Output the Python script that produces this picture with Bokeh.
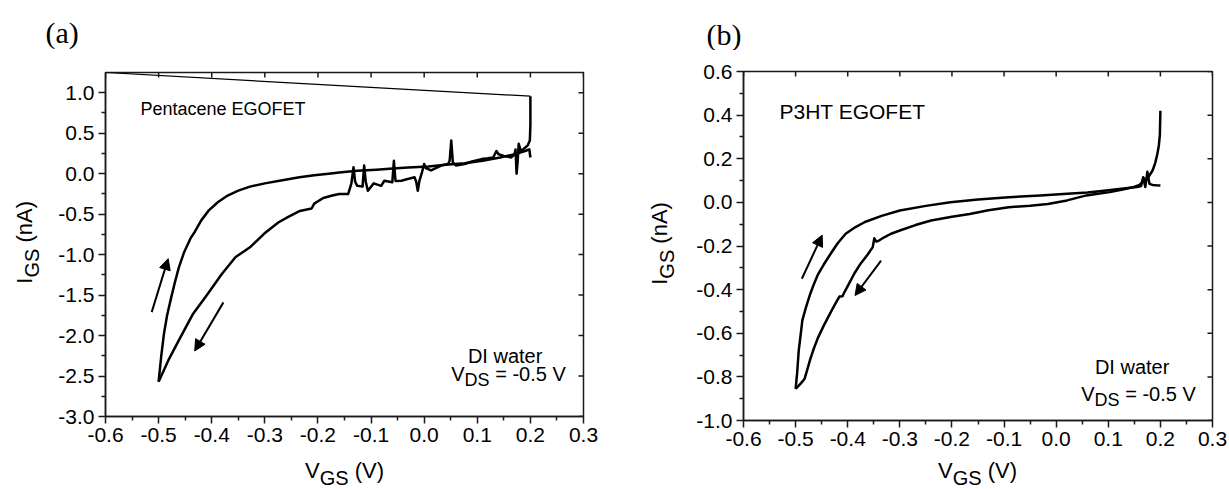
import math
from bokeh.plotting import figure
from bokeh.models import FixedTicker, PrintfTickFormatter, Range1d, Label, Arrow, NormalHead
from bokeh.layouts import row, column
from bokeh.embed import file_html
from bokeh.resources import INLINE

# ---------------- data ----------------
X_TICKS = [-0.6, -0.5, -0.4, -0.3, -0.2, -0.1, 0.0, 0.1, 0.2, 0.3]
X_MINOR = [-0.55, -0.45, -0.35, -0.25, -0.15, -0.05, 0.05, 0.15, 0.25]
A_Y_TICKS = [-3.0, -2.5, -2.0, -1.5, -1.0, -0.5, 0.0, 0.5, 1.0]
A_Y_MINOR = [-2.75, -2.25, -1.75, -1.25, -0.75, -0.25, 0.25, 0.75]
B_Y_TICKS = [-1.0, -0.8, -0.6, -0.4, -0.2, 0.0, 0.2, 0.4, 0.6]
B_Y_MINOR = [-0.9, -0.7, -0.5, -0.3, -0.1, 0.1, 0.3, 0.5]

# (a) Pentacene EGOFET: sweep 0.2 V -> -0.5 V (noisy branch)
a_fwd_vgs = [0.200, 0.200, 0.199, 0.195, 0.190, 0.186, 0.182, 0.178, 0.176, 0.174, 0.172, 0.170,
             0.164, 0.150, 0.140, 0.136, 0.130, 0.120, 0.108, 0.090, 0.076, 0.060, 0.054, 0.051,
             0.048, 0.045, 0.032, 0.013, 0.003, 0.000, -0.004, -0.009, -0.012, -0.015, -0.018,
             -0.031, -0.043, -0.054, -0.057, -0.060, -0.075, -0.081, -0.095, -0.106, -0.110,
             -0.113, -0.116, -0.126, -0.130, -0.133, -0.137, -0.143, -0.160, -0.173, -0.190,
             -0.207, -0.212, -0.234, -0.255, -0.274, -0.301, -0.328, -0.355, -0.381, -0.408,
             -0.435, -0.462, -0.482, -0.500]
a_fwd_igs = [0.957, 0.60, 0.41, 0.35, 0.32, 0.30, 0.28, 0.37, 0.15, 0.00, 0.30, 0.24,
             0.20, 0.22, 0.24, 0.28, 0.20, 0.19, 0.18, 0.15, 0.12, 0.10, 0.14, 0.41,
             0.16, 0.12, 0.10, 0.04, 0.07, 0.12, 0.02, -0.09, -0.21, -0.10, -0.045,
             -0.066, -0.087, -0.09, 0.16, -0.107, -0.087, -0.15, -0.12, -0.21, -0.10,
             0.10, -0.16, -0.15, -0.10, 0.08, -0.12, -0.25, -0.25, -0.27, -0.30,
             -0.37, -0.43, -0.46, -0.53, -0.60, -0.74, -0.91, -1.03, -1.24, -1.49,
             -1.73, -2.06, -2.31, -2.57]
# (a) return sweep -0.5 V -> 0.2 V (smooth branch)
a_ret_vgs = [-0.500, -0.495, -0.490, -0.484, -0.477, -0.470, -0.462, -0.452, -0.440, -0.432,
             -0.420, -0.405, -0.388, -0.370, -0.350, -0.328, -0.300, -0.267, -0.235, -0.207,
             -0.180, -0.160, -0.126, -0.090, -0.059, -0.030, 0.008, 0.040, 0.076, 0.110,
             0.143, 0.170, 0.190, 0.198, 0.200]
a_ret_igs = [-2.57, -2.25, -1.98, -1.75, -1.55, -1.36, -1.16, -0.97, -0.80, -0.72,
             -0.58, -0.45, -0.35, -0.27, -0.21, -0.16, -0.12, -0.08, -0.045, -0.02,
             0.00, 0.015, 0.035, 0.05, 0.065, 0.075, 0.09, 0.11, 0.13, 0.16,
             0.20, 0.24, 0.28, 0.30, 0.20]
# (a) thin connecting line
a_art_vgs = [-0.6, 0.2]
a_art_igs = [1.25, 0.957]

# (b) P3HT EGOFET: sweep 0.2 V -> -0.5 V
b_fwd_vgs = [0.200, 0.199, 0.197, 0.194, 0.190, 0.185, 0.178, 0.172, 0.168, 0.164, 0.160,
             0.148, 0.130, 0.103, 0.080, 0.058, 0.021, -0.016, -0.050, -0.091, -0.130,
             -0.166, -0.200, -0.240, -0.270, -0.300, -0.318, -0.330, -0.340, -0.345, -0.349,
             -0.352, -0.362, -0.375, -0.387, -0.397, -0.406, -0.410, -0.416, -0.425, -0.434,
             -0.446, -0.457, -0.465, -0.472, -0.478, -0.483, -0.490, -0.500]
b_fwd_igs = [0.42, 0.31, 0.26, 0.22, 0.18, 0.146, 0.12, 0.10, 0.11, 0.09, 0.08,
             0.07, 0.06, 0.047, 0.04, 0.032, 0.009, -0.007, -0.015, -0.022, -0.036,
             -0.053, -0.066, -0.083, -0.104, -0.129, -0.145, -0.16, -0.175, -0.18, -0.165,
             -0.205, -0.24, -0.28, -0.325, -0.37, -0.41, -0.43, -0.432, -0.47, -0.51,
             -0.565, -0.62, -0.67, -0.72, -0.77, -0.81, -0.83, -0.855]
# (b) return sweep -0.5 V -> 0.2 V
b_ret_vgs = [-0.500, -0.497, -0.494, -0.490, -0.487, -0.480, -0.472, -0.465, -0.457, -0.446,
             -0.434, -0.420, -0.404, -0.385, -0.367, -0.335, -0.300, -0.250, -0.203, -0.150,
             -0.091, -0.030, 0.021, 0.060, 0.096, 0.133, 0.155, 0.163, 0.167, 0.171,
             0.175, 0.179, 0.185, 0.192, 0.200]
b_ret_igs = [-0.855, -0.78, -0.68, -0.60, -0.54, -0.48, -0.42, -0.375, -0.33, -0.285,
             -0.24, -0.19, -0.144, -0.113, -0.09, -0.062, -0.037, -0.016, 0.001, 0.013,
             0.024, 0.032, 0.039, 0.045, 0.054, 0.065, 0.07, 0.075, 0.115, 0.07,
             0.14, 0.085, 0.08, 0.078, 0.077]

# sweep-direction arrows (start -> end, data coordinates)
a_arrows = [((-0.513, -1.71), (-0.482, -1.05)), ((-0.378, -1.59), (-0.432, -2.19))]
b_arrows = [((-0.488, -0.35), (-0.449, -0.15)), ((-0.336, -0.267), (-0.386, -0.427))]

# ---------------- helpers ----------------
SANS = "Liberation Sans"
SERIF = "Liberation Serif"
INK = "#1a1a1a"
BASE_FIX = 0.35   # rendered text sits this many em below the requested baseline
AW = {'V': 667, 'G': 778, 'S': 667, ' ': 278, '(': 333, ')': 333, 'I': 278, 'n': 556,
      'A': 667, 'D': 722, '=': 584, '-': 333, '0': 556, '.': 278, '5': 556}


def tw(s, size):
    return sum(AW.get(c, 556) for c in s) / 1000.0 * size


def rich(p, x, y, pieces, align="center", angle=0.0):
    total = sum(tw(t, s) for t, s, _ in pieces)
    pos = {"left": 0.0, "center": -total / 2.0, "right": -total}[align]
    for t, s, dy in pieces:
        lead = len(t) - len(t.lstrip(" "))
        pos += lead * 0.278 * s
        t = t.lstrip(" ")
        if angle == 0:
            xo, yo = pos, -dy + BASE_FIX * s
        else:
            xo, yo = dy - BASE_FIX * s, pos
        p.add_layout(Label(x=x, y=y, x_offset=xo, y_offset=yo, text=t, angle=angle,
                           text_font=SANS, text_font_size=f"{s}px", text_align="left",
                           text_baseline="alphabetic", text_color="black"))
        pos += tw(t, s)


def plain(p, x, y, text, size, font=SANS, align="left"):
    p.add_layout(Label(x=x, y=y, y_offset=BASE_FIX * size, text=text, text_font=font,
                       text_font_size=f"{size}px", text_align=align,
                       text_baseline="alphabetic", text_color="black"))


def strip(w, h):
    s = figure(width=w, height=h, x_range=Range1d(0, w), y_range=Range1d(0, h), title=None,
               x_axis_type=None, y_axis_type=None, output_backend="svg", toolbar_location=None,
               min_border=0, min_border_left=0, min_border_right=0, min_border_top=0,
               min_border_bottom=0)
    s.outline_line_color = None
    s.xgrid.visible = False
    s.ygrid.visible = False
    return s


def style_axis(ax, ticks, minor, size=21):
    ax.ticker = FixedTicker(ticks=ticks, minor_ticks=minor)
    ax.formatter = PrintfTickFormatter(format="%.1f")
    ax.axis_line_color = INK
    ax.axis_line_width = 1.5
    ax.major_tick_line_color = INK
    ax.major_tick_line_width = 1.5
    ax.minor_tick_line_color = INK
    ax.minor_tick_line_width = 1.5
    ax.major_tick_in = 0
    ax.major_tick_out = 7
    ax.minor_tick_in = 0
    ax.minor_tick_out = 4
    ax.major_label_text_font = SANS
    ax.major_label_text_font_size = f"{size}px"
    ax.major_label_text_color = "black"
    ax.major_label_standoff = 4


def make_fig(w, h, yr, bl, br, bt, bb, yt, ym):
    p = figure(width=w, height=h, x_range=Range1d(-0.6, 0.3), y_range=Range1d(*yr), title=None,
               output_backend="svg", toolbar_location=None,
               min_border_left=bl, min_border_right=br, min_border_top=bt, min_border_bottom=bb)
    p.outline_line_color = INK
    p.outline_line_width = 1.5
    p.outline_line_alpha = 1.0
    p.xgrid.visible = False
    p.ygrid.visible = False
    p.background_fill_color = "white"
    p.border_fill_color = "white"
    style_axis(p.xaxis[0], X_TICKS, X_MINOR)
    style_axis(p.yaxis[0], yt, ym)
    # inward ticks on the top and right frame edges (half of each dash is clipped by the frame)
    p.scatter(X_TICKS, [yr[1]] * len(X_TICKS), marker="dash", size=10, angle=math.pi / 2,
              line_color=INK, line_width=1.5)
    p.scatter([0.3] * len(yt), yt, marker="dash", size=10, line_color=INK, line_width=1.5)
    return p


def add_arrows(p, arrows):
    for (x0, y0), (x1, y1) in arrows:
        p.add_layout(Arrow(end=NormalHead(size=11, fill_color="black", line_color="black", line_width=1),
                           x_start=x0, y_start=y0, x_end=x1, y_end=y1,
                           line_color="black", line_width=2))


def a_xy(px, py):
    return -0.6 + (px - 105) / (478 / 0.9), 1.25 - (py - 72) / (344 / 4.25)


def b_xy(px, py):
    return -0.6 + (px - 743) / (469 / 0.9), 0.6 - (py - 71) / (349 / 1.6)


# ---------------- panel (a) ----------------
# page geometry: frame x 105..583, y 72..416
pa = make_fig(563, 405, (-3.0, 1.25), 60, 25, 22, 39, A_Y_TICKS, A_Y_MINOR)
pa.line(a_art_vgs, a_art_igs, line_color="black", line_width=1.2)
pa.line(a_fwd_vgs, a_fwd_igs, line_color="black", line_width=2.5, line_join="round")
pa.line(a_ret_vgs, a_ret_igs, line_color="black", line_width=2.5, line_join="round")
add_arrows(pa, a_arrows)

x, y = a_xy(140, 115)
plain(pa, x, y, "Pentacene EGOFET", 18)
x, y = a_xy(508, 362)
rich(pa, x, y, [("DI water", 20, 0)])
x, y = a_xy(508, 380)
rich(pa, x, y, [("V", 20, 0), ("DS", 18, 6), (" = -0.5 V", 20, 0)])

ta = strip(608, 50)          # page x 0..608, y 0..50
plain(ta, 45, 50 - 42, "(a)", 30, font=SERIF)
la = strip(45, 405)          # page x 0..45, y 50..455
rich(la, 32, 455 - 250, [("I", 22, 0), ("GS", 20, 6), (" (nA)", 22, 0)], angle=math.pi / 2)
ba = strip(608, 34)          # page x 0..608, y 455..489
rich(ba, 344, 489 - 478, [("V", 22, 0), ("GS", 20, 6), (" (V)", 22, 0)])

block_a = column(ta, row(la, pa), ba)

# ---------------- panel (b) ----------------
# page geometry: frame x 743..1212, y 71..420
pb = make_fig(546, 408, (-1.0, 0.6), 60, 17, 21, 38, B_Y_TICKS, B_Y_MINOR)
pb.line(b_fwd_vgs, b_fwd_igs, line_color="black", line_width=2.5, line_join="round")
pb.line(b_ret_vgs, b_ret_igs, line_color="black", line_width=2.5, line_join="round")
add_arrows(pb, b_arrows)

x, y = b_xy(779, 118)
plain(pb, x, y, "P3HT EGOFET", 21)
x, y = b_xy(1135, 373)
rich(pb, x, y, [("DI water", 20, 0)])
x, y = b_xy(1138, 400)
rich(pb, x, y, [("V", 20, 0), ("DS", 18, 6), (" = -0.5 V", 20, 0)])

tb = strip(621, 50)          # page x 608..1229, y 0..50
plain(tb, 706 - 608, 50 - 44, "(b)", 30, font=SERIF)
lb = strip(75, 408)          # page x 608..683, y 50..458
rich(lb, 667 - 608, 458 - 251, [("I", 22, 0), ("GS", 20, 6), (" (nA)", 22, 0)], angle=math.pi / 2)
bb = strip(621, 31)          # page x 608..1229, y 458..489
rich(bb, 977 - 608, 489 - 478, [("V", 22, 0), ("GS", 20, 6), (" (V)", 22, 0)])

block_b = column(tb, row(lb, pb), bb)

layout = row(block_a, block_b)
open("out.html", "w").write(file_html(layout, INLINE))
